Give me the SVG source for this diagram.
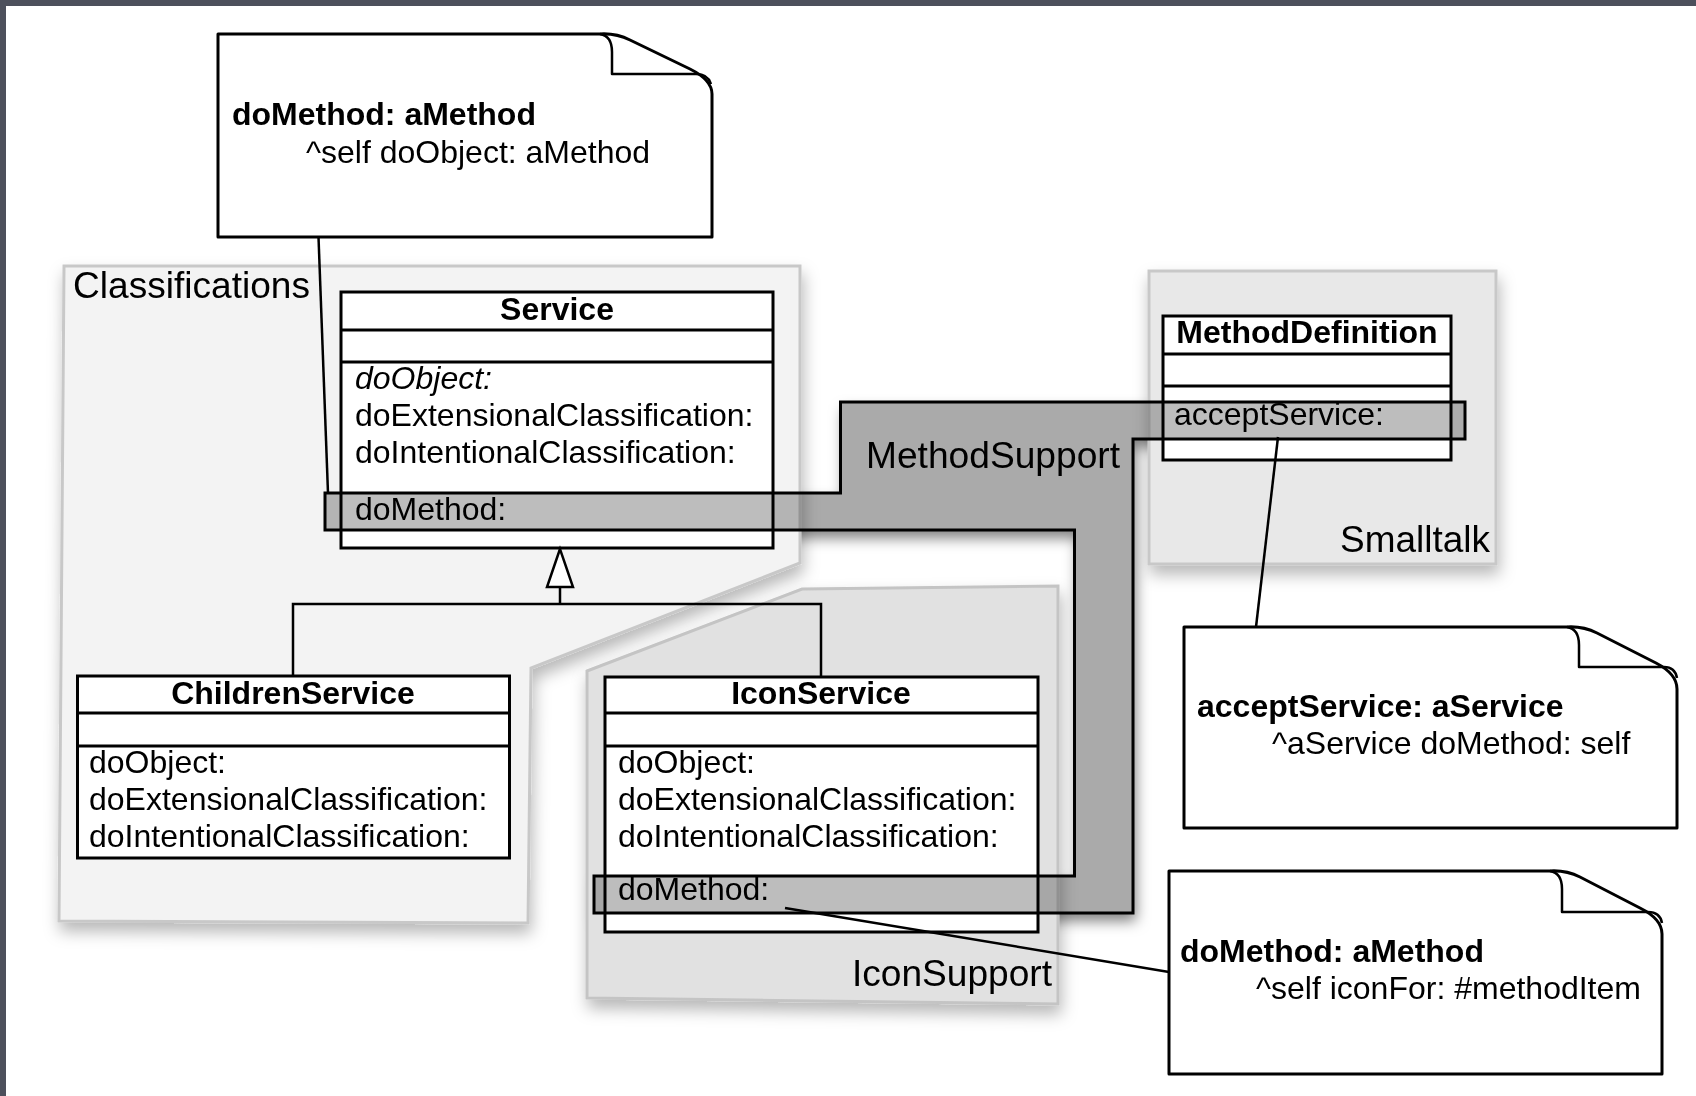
<svg xmlns="http://www.w3.org/2000/svg" width="1696" height="1096" viewBox="0 0 1696 1096">
<defs>
<filter id="pshadow" x="-10%" y="-10%" width="130%" height="130%">
<feDropShadow dx="2" dy="9" stdDeviation="8" flood-color="#000" flood-opacity="0.28"/>
</filter>
<filter id="mshadow" x="-10%" y="-10%" width="130%" height="130%">
<feDropShadow dx="3" dy="8" stdDeviation="7" flood-color="#000" flood-opacity="0.5"/>
</filter>
<style>
text{font-family:"Liberation Sans",Arial,sans-serif;fill:#000}
.cls{font-size:32px}
.b{font-weight:bold}
.it{font-style:italic}
.pk{font-size:37px}
.box{fill:#fff;stroke:#000;stroke-width:3}
.div{stroke:#000;stroke-width:3;fill:none}
.note{fill:#fff;stroke:#000;stroke-width:3;stroke-linejoin:round}
.flap{fill:none;stroke:#000;stroke-width:2.5;stroke-linejoin:round}
.conn{stroke:#000;stroke-width:2.5;fill:none}
.band{fill:#bdbdbd;mix-blend-mode:multiply;stroke:#000;stroke-width:3}
</style>
</defs>
<rect x="0" y="0" width="1696" height="1096" fill="#4d505c"/>
<rect x="6" y="6" width="1690" height="1090" fill="#fff"/>

<g id="MethodSupport-base">
<polygon points="325,493 840.5,493 840.5,402 1465,402 1465,439 1133,439 1133,913 594,913 594,876 1074.5,876 1074.5,530 325,530" fill="#e5e5e5" filter="url(#mshadow)"/>
</g>

<g id="Classifications">
<polygon points="64,266 800,266 800,563 531,668 528,923 59,921" fill="#f3f3f3" stroke="#c8c8c8" stroke-width="3" filter="url(#pshadow)"/>
<text class="pk" x="73" y="298" textLength="237" lengthAdjust="spacingAndGlyphs">Classifications</text>
</g>
<g id="IconSupport">
<polygon points="587,671 802,589 1058,586 1058,1004 587,998" fill="#e1e1e1" stroke="#c4c4c4" stroke-width="3" filter="url(#pshadow)"/>
<text class="pk" x="852" y="986" textLength="200" lengthAdjust="spacingAndGlyphs">IconSupport</text>
</g>
<g id="Smalltalk">
<rect x="1149" y="271" width="347" height="293" fill="#e8e8e8" stroke="#c8c8c8" stroke-width="3" filter="url(#pshadow)"/>
<text class="pk" x="1340" y="552" textLength="150" lengthAdjust="spacingAndGlyphs">Smalltalk</text>
</g>

<g id="Service">
<rect class="box" x="341" y="292" width="432" height="256"/>
<line class="div" x1="341" y1="330" x2="773" y2="330"/>
<line class="div" x1="341" y1="362" x2="773" y2="362"/>
<text class="cls b" x="557" y="320" text-anchor="middle">Service</text>
<text class="cls it" x="355" y="389">doObject:</text>
<text class="cls" x="355" y="426">doExtensionalClassification:</text>
<text class="cls" x="355" y="463">doIntentionalClassification:</text>
<text class="cls" x="355" y="520">doMethod:</text>
</g>

<g id="ChildrenService">
<rect class="box" x="77.5" y="676" width="432" height="182"/>
<line class="div" x1="77.5" y1="713" x2="509.5" y2="713"/>
<line class="div" x1="77.5" y1="746" x2="509.5" y2="746"/>
<text class="cls b" x="293" y="704" text-anchor="middle">ChildrenService</text>
<text class="cls" x="89" y="773">doObject:</text>
<text class="cls" x="89" y="810">doExtensionalClassification:</text>
<text class="cls" x="89" y="847">doIntentionalClassification:</text>
</g>

<g id="IconService">
<rect class="box" x="605" y="677" width="433" height="255"/>
<line class="div" x1="605" y1="713" x2="1038" y2="713"/>
<line class="div" x1="605" y1="746" x2="1038" y2="746"/>
<text class="cls b" x="821" y="704" text-anchor="middle">IconService</text>
<text class="cls" x="618" y="773">doObject:</text>
<text class="cls" x="618" y="810">doExtensionalClassification:</text>
<text class="cls" x="618" y="847">doIntentionalClassification:</text>
<text class="cls" x="618" y="900">doMethod:</text>
</g>

<g id="MethodDefinition">
<rect class="box" x="1163" y="316" width="288" height="144"/>
<line class="div" x1="1163" y1="354" x2="1451" y2="354"/>
<line class="div" x1="1163" y1="386" x2="1451" y2="386"/>
<text class="cls b" x="1307" y="343" text-anchor="middle">MethodDefinition</text>
<text class="cls" x="1174" y="425">acceptService:</text>
</g>

<g id="MethodSupport">
<polygon class="band" points="325,493 840.5,493 840.5,402 1465,402 1465,439 1133,439 1133,913 594,913 594,876 1074.5,876 1074.5,530 325,530"/>
<text class="pk" x="866" y="468" textLength="254" lengthAdjust="spacingAndGlyphs">MethodSupport</text>
</g>

<g id="connectors">
<polygon points="560,549 547,587 573,587" fill="#fff" stroke="#000" stroke-width="2.5" stroke-linejoin="miter"/>
<polyline class="conn" points="560,587 560,604"/>
<polyline class="conn" points="293,676 293,604 821,604 821,677"/>
<line class="conn" x1="318.5" y1="237" x2="328" y2="493"/>
<line class="conn" x1="1278" y1="437" x2="1256" y2="627"/>
<line class="conn" x1="785" y1="908" x2="1169" y2="972"/>
</g>

<g id="note-doMethod-doObject">
<path class="note" d="M218,34 L600,34 Q616,33 630,40 L690,69 Q712,80 712,94 L712,237 L218,237 Z"/>
<path class="flap" d="M600,34 Q612,36 612,52 L612,74 L696,74 Q708,74 711,84"/>
<text class="cls b" x="232" y="125">doMethod: aMethod</text>
<text class="cls" x="306" y="163">^self doObject: aMethod</text>
</g>

<g id="note-acceptService">
<path class="note" d="M1184,627 L1567,627 Q1583,626 1597,633 L1656,663 Q1677,674 1677,689 L1677,828 L1184,828 Z"/>
<path class="flap" d="M1567,627 Q1579,629 1579,645 L1579,667 L1664,667 Q1675,667 1677,678"/>
<text class="cls b" x="1197" y="717">acceptService: aService</text>
<text class="cls" x="1272" y="754">^aService doMethod: self</text>
</g>

<g id="note-doMethod-iconFor">
<path class="note" d="M1169,871 L1550,871 Q1566,870 1580,877 L1640,908 Q1662,919 1662,934 L1662,1074 L1169,1074 Z"/>
<path class="flap" d="M1550,871 Q1562,873 1562,889 L1562,912 L1648,912 Q1660,912 1662,923"/>
<text class="cls b" x="1180" y="962">doMethod: aMethod</text>
<text class="cls" x="1256" y="999">^self iconFor: #methodItem</text>
</g>
</svg>
